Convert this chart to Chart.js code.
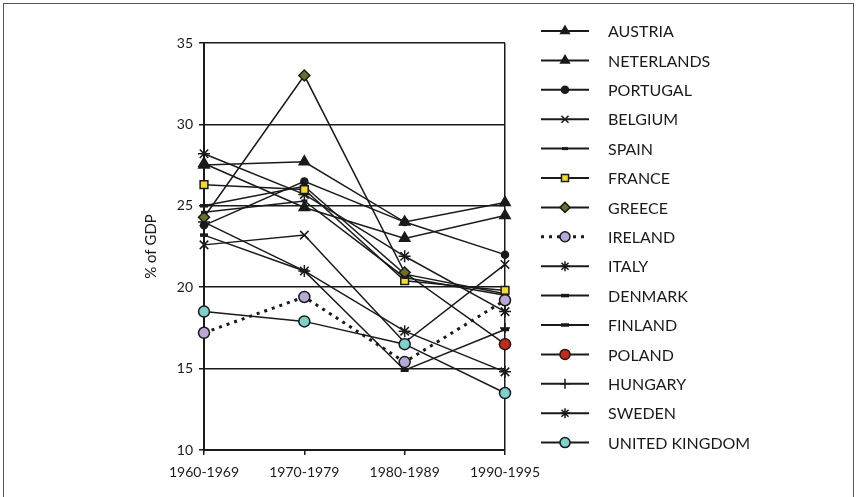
<!DOCTYPE html>
<html>
<head>
<meta charset="utf-8">
<script src="https://cdn.jsdelivr.net/npm/chart.js@4.4.1/dist/chart.umd.min.js"></script>
<style>
  body { margin: 0; background: #fff; }
  #wrap { position: relative; width: 856px; height: 497px; overflow: hidden; }
  #frame { position: absolute; left: 3px; top: 3px; width: 849px; height: 500px; border: 1px solid #555; }
</style>
</head>
<body>
<div id="wrap">
  <canvas id="chart" width="856" height="497"></canvas>
  <div id="frame"></div>
</div>
<script>
// periods
const periods = ["1960-1969", "1970-1979", "1980-1989", "1990-1995"];

// % of GDP per country
const austria     = [27.5, 27.7, 24.0, 25.2];
const netherlands = [27.6, 24.9, 23.0, 24.4];
const portugal    = [23.8, 26.5, 24.0, 22.0];
const belgium     = [22.6, 23.2, 16.6, 21.4];
const spain       = [24.6, 25.3, 20.6, 19.5];
const france      = [26.3, 26.0, 20.4, 19.8];
const greece      = [24.3, 33.0, 20.9, 16.5];
const ireland     = [17.2, 19.4, 15.4, 19.2];
const italy       = [28.2, 25.7, 21.9, 18.5];
const denmark     = [23.2, 21.0, 14.9, 17.4];
const finland     = [25.0, 26.2, 20.8, 19.6];
const poland      = [null, null, null, 16.5];
const hungary     = [null, null, null, 17.5];
const sweden      = [24.0, 21.0, 17.3, 14.8];
const uk          = [18.5, 17.9, 16.5, 13.5];

const yTicks = [10, 15, 20, 25, 30, 35];

const INK = "#1a1a1a";

function series(label, data, style, radius, fill, extra) {
    return Object.assign({
        label: label,
        data: data,
        borderColor: INK,
        borderWidth: 1.5,
        pointStyle: style,
        pointRadius: radius,
        pointHoverRadius: radius,
        pointBackgroundColor: fill,
        pointBorderColor: INK,
        pointBorderWidth: 1.5,
        tension: 0,
        clip: false,
        spanGaps: false
    }, extra || {});
}

const datasets = [
    series("AUSTRIA", austria, "triangle", 6, INK),
    series("NETERLANDS", netherlands, "triangle", 6, INK),
    series("PORTUGAL", portugal, "circle", 3.5, INK),
    series("BELGIUM", belgium, "crossRot", 6, INK),
    series("SPAIN", spain, "line", 3, INK, { pointBorderWidth: 3 }),
    series("FRANCE", france, "rect", 5.5, "#f2dc2c"),
    series("GREECE", greece, "rectRot", 5.5, "#6e6e2a"),
    series("IRELAND", ireland, "circle", 5.5, "#b8a8d8", { borderDash: [3, 5], borderWidth: 3, order: -1 }),
    series("ITALY", italy, "star", 6, INK),
    series("DENMARK", denmark, "line", 4, INK, { pointBorderWidth: 3.5 }),
    series("FINLAND", finland, "line", 4, INK, { pointBorderWidth: 3.5 }),
    series("POLAND", poland, "circle", 5.5, "#c8281a", { order: -2 }),
    series("HUNGARY", hungary, "cross", 5, INK),
    series("SWEDEN", sweden, "star", 6, INK),
    series("UNITED KINGDOM", uk, "circle", 5.5, "#7fcfcc", { order: -1 })
];

// legend on the right: line sample with marker, then the name
const sideLegend = {
    id: "sideLegend",
    afterDraw(chart) {
        const ctx = chart.ctx;
        chart.data.datasets.forEach((ds, i) => {
            const y = 31 + i * 29.4;
            ctx.save();
            ctx.strokeStyle = ds.borderColor;
            ctx.lineWidth = Math.max(ds.borderWidth, 2);
            ctx.setLineDash(ds.borderDash || []);
            ctx.beginPath();
            ctx.moveTo(541, y);
            ctx.lineTo(589, y);
            ctx.stroke();
            ctx.setLineDash([]);
            ctx.fillStyle = ds.pointBackgroundColor;
            ctx.strokeStyle = ds.pointBorderColor;
            ctx.lineWidth = ds.pointBorderWidth;
            Chart.helpers.drawPoint(ctx, {
                pointStyle: ds.pointStyle,
                radius: Math.min(ds.pointRadius, 5),
                rotation: 0,
                borderWidth: ds.pointBorderWidth
            }, 565, y);
            ctx.fillStyle = INK;
            ctx.font = "16px Lato";
            ctx.textBaseline = "middle";
            ctx.textAlign = "left";
            ctx.fillText(ds.label, 608, y + 1);
            ctx.restore();
        });
    }
};

new Chart(document.getElementById("chart"), {
    type: "line",
    data: { labels: periods, datasets: datasets },
    plugins: [sideLegend],
    options: {
        responsive: false,
        animation: false,
        layout: { padding: { top: 43, left: 138, right: 351, bottom: 7 } },
        plugins: { legend: { display: false }, tooltip: { enabled: false } },
        scales: {
            x: {
                offset: false,
                afterFit: s => { s.height = 40; },
                grid: {
                    color: c => c.index === periods.length - 1 ? INK : "rgba(0,0,0,0)",
                    lineWidth: 1.5,
                    tickColor: INK,
                    tickLength: 5,
                    drawOnChartArea: true
                },
                border: { color: INK, width: 2 },
                ticks: { color: INK, font: { family: "Lato", size: 14 }, padding: 9, maxRotation: 0 }
            },
            y: {
                min: 10,
                max: 35,
                afterFit: s => { s.width = 66; },
                afterBuildTicks: s => { s.ticks = yTicks.map(v => ({ value: v })); },
                grid: { color: INK, lineWidth: 1.5, tickLength: 5 },
                border: { color: INK, width: 2 },
                ticks: { color: INK, font: { family: "Lato", size: 14 }, padding: 6 },
                title: { display: true, text: "% of GDP", color: INK, font: { family: "Lato", size: 15 } }
            }
        }
    }
});
</script>
</body>
</html>
